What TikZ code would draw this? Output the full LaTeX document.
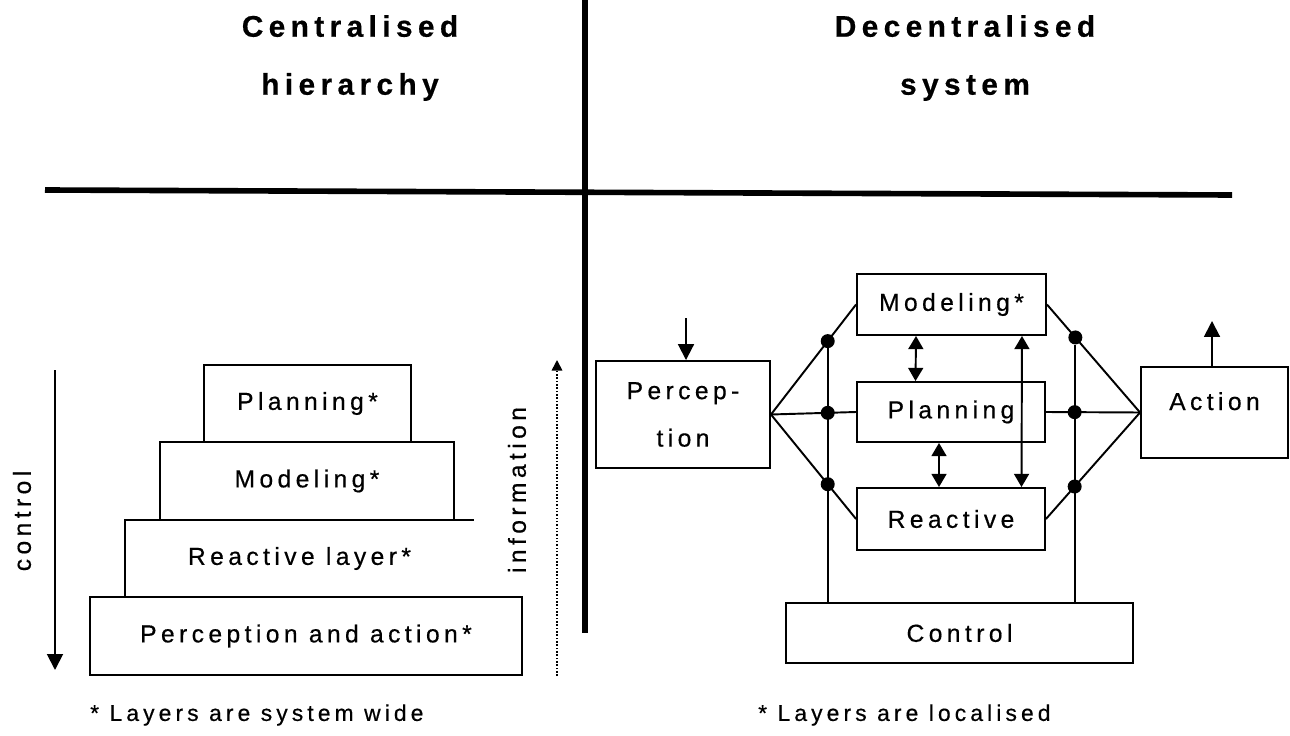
\documentclass[tikz,border=0pt]{standalone}
\usepackage{fontspec}
\setmainfont{Liberation Sans}[LetterSpace=18, FakeBold=0.5]
\usetikzlibrary{arrows.meta,calc}

\begin{document}
\begin{tikzpicture}[
  x=0.02cm, y=-0.02cm,
  every node/.style={font=\fontsize{14}{16}\selectfont},
  layer/.style={draw, line width=1.1pt, inner sep=0pt},
  title/.style={font=\fontsize{17}{33}\selectfont\bfseries, align=center},
  note/.style={anchor=west, font=\fontsize{13}{16}\selectfont},
  dot/.style={circle, fill, inner sep=0pt, minimum size=0.28cm},
  wire/.style={line width=1.1pt},
  arr/.style={-{Triangle[width=9pt,length=9pt]}, line width=1.1pt},
  darr/.style={{Triangle[width=8.5pt,length=7.5pt]}-{Triangle[width=8.5pt,length=7.5pt]}, line width=1.1pt},
  info/.style={-{Triangle[width=6pt,length=6pt]}, densely dotted, line width=0.9pt},
  divider/.style={line width=3.2pt}
]
  \useasboundingbox (0,0) rectangle (1290,736);

  % Titulos
  \node[title] (cent)   at (350,58) {Centralised\\hierarchy};
  \node[title] (decent) at (965,58) {Decentralised\\system};

  % Divisoes
  \draw[divider] (45,190) -- (1232,195);
  \draw[divider] (585,0) -- (585,633);

  % Hierarquia centralizada
  \node[layer, minimum width=4.14cm, minimum height=1.54cm] (plan)  at (307.5,403.5) {Planning*};
  \node[layer, minimum width=5.88cm, minimum height=1.56cm] (model) at (307,481) {Modeling*};
  \node[minimum width=6.98cm, minimum height=1.54cm] (react) at (299.5,558.5) {Reactive layer*};
  \draw[wire] (react.south west) |- (react.north east);
  \node[layer, minimum width=8.64cm, minimum height=1.56cm] (percact) at (306,636) {Perception and action*};

  \coordinate (ctrltop) at (55,370);
  \coordinate (ctrlbot) at (55,670);
  \draw[arr] (ctrltop) -- (ctrlbot);
  \node[rotate=90] (ctrllbl) at (22,521) {control};

  \coordinate (infobot) at (557,676);
  \coordinate (infotop) at (557,360);
  \draw[info] (infobot) -- (infotop);
  \node[rotate=90] (infolbl) at (517,490) {information};

  \node[note] (noteL) at (84,715) {* Layers are system wide};

  % Sistema descentralizado
  \node[layer, minimum width=3.48cm, minimum height=2.14cm, align=center,
        font=\fontsize{14}{27}\selectfont] (perc) at (683,414.5) {Percep-\\tion};
  \node[layer, minimum width=3.78cm, minimum height=1.22cm] (modl) at (951.5,304.5) {Modeling*};
  \node[layer, minimum width=3.76cm, minimum height=1.20cm] (plng) at (951,412) {Planning};
  \node[layer, minimum width=3.76cm, minimum height=1.24cm] (reac) at (951,519) {Reactive};
  \node[layer, minimum width=2.94cm, minimum height=1.82cm,
        text height=0.3cm, text depth=0.4cm] (act) at (1214.5,412.5) {Action};
  \node[layer, minimum width=6.94cm, minimum height=1.2cm] (ctrl) at (959.5,633) {Control};

  \coordinate (percin) at (686,318);
  \draw[arr] (percin) -- (percin |- perc.north);
  \coordinate (actout) at (1212,321);
  \draw[arr] (actout |- act.north) -- (actout);

  % Juncoes
  \node[dot] (l1) at ($(perc.east)!0.667!(modl.west)$) {};
  \node[dot] (l2) at ($(perc.east)!0.667!(plng.west)$) {};
  \node[dot] (l3) at ($(perc.east)!0.667!(reac.west)$) {};
  \node[dot] (r1) at ($(modl.east)!0.305!(act.west)$) {};
  \node[dot] (r2) at ($(plng.east)!0.305!(act.west)$) {};
  \node[dot] (r3) at ($(reac.east)!0.305!(act.west)$) {};

  \draw[wire] (perc.east) -- (modl.west);
  \draw[wire] (perc.east) -- (plng.west);
  \draw[wire] (perc.east) -- (reac.west);
  \draw[wire] (modl.east) -- (act.west);
  \draw[wire] (plng.east) -- (act.west);
  \draw[wire] (reac.east) -- (act.west);
  \draw[wire] (l1) -- (l1 |- ctrl.north);
  \draw[wire] (r1) -- (r1 |- ctrl.north);

  % Setas entre camadas
  \draw[darr] ([xshift=-0.71cm]modl.south) -- ([xshift=-0.71cm]plng.north);
  \draw[darr] ([xshift=-0.24cm]plng.south) -- ([xshift=-0.24cm]reac.north);
  \draw[darr] ([xshift=1.41cm]modl.south) -- ([xshift=1.41cm]reac.north);

  \node[note] (noteR) at (752,715) {* Layers are localised};
\end{tikzpicture}
\end{document}
